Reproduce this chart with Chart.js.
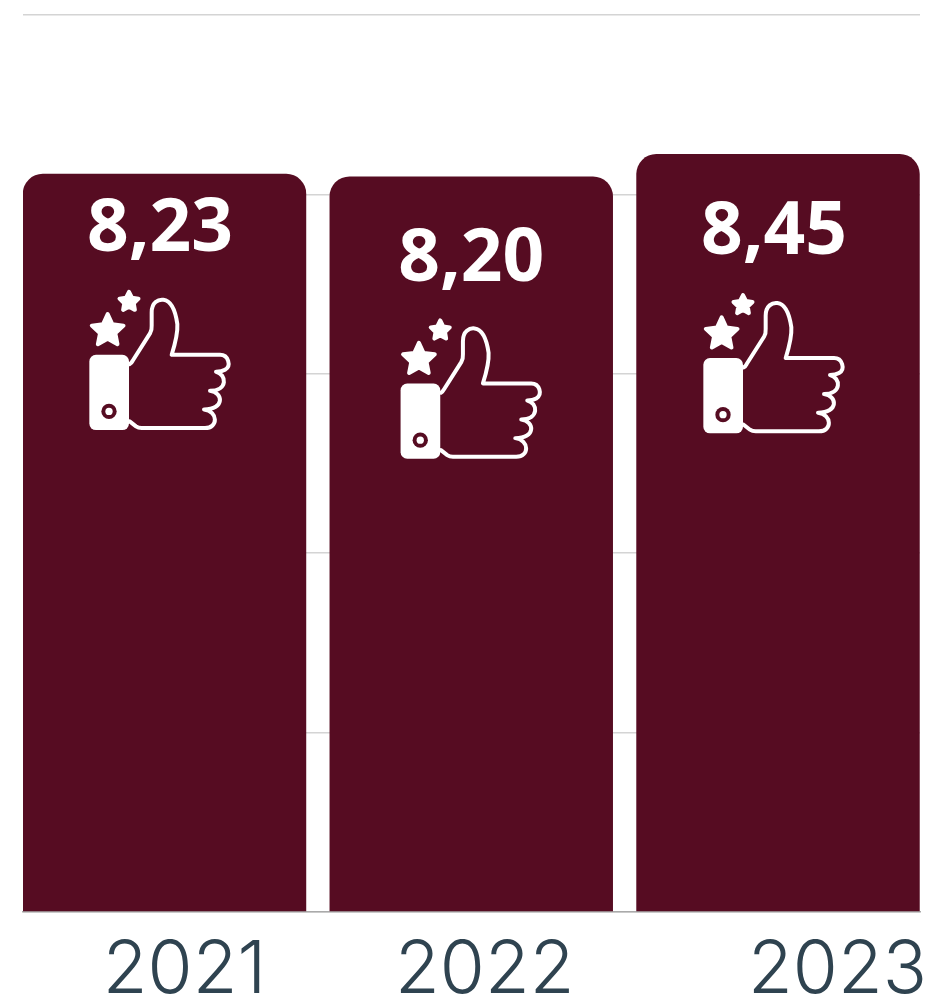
<!DOCTYPE html>
<html>
<head>
<meta charset="utf-8">
<style>
  html, body { margin: 0; padding: 0; background: #fff; }
  canvas { display: block; }
</style>
<script src="https://cdn.jsdelivr.net/npm/chart.js@4"></script>
</head>
<body>
<canvas id="chart" width="941" height="1005"></canvas>
<script>
const years = [2021, 2022, 2023];
const scores = [8.23, 8.20, 8.45];
const yTicks = [0, 2, 4, 6, 8, 10];

// the labels in the picture are not centred under the bars, so each one has its own nudge
const yearShift = [20, 13.5, 59.5];
const valueShiftX = [-4.5, 0, -4];
const valueShiftY = [56, 84, 79];
const thumbShiftY = [0, -2, 0];

const barColor = "#560c22";

function star(ctx, cx, cy, outer, inner) {
  ctx.beginPath();
  for (let i = 0; i < 10; i++) {
    const r = i % 2 ? inner : outer;
    const a = -Math.PI / 2 + i * Math.PI / 5;
    ctx.lineTo(cx + r * Math.cos(a), cy + r * Math.sin(a));
  }
  ctx.closePath();
  ctx.fill();
  ctx.stroke();
}

function drawThumb(ctx, x, y) {
  ctx.save();
  ctx.translate(x - 100, y - 59);
  ctx.scale(1 / 3, 1 / 3);
  ctx.fillStyle = "#fff";
  ctx.strokeStyle = "#fff";
  ctx.lineJoin = "round";
  ctx.lineCap = "round";

  ctx.lineWidth = 12;
  star(ctx, 143, 480, 50, 24);
  star(ctx, 207, 393, 30, 15);

  ctx.beginPath();
  ctx.roundRect(88, 552, 119, 226, 20);
  ctx.fill();
  ctx.fillStyle = barColor;
  ctx.beginPath();
  ctx.arc(147, 722, 23, 0, Math.PI * 2);
  ctx.fill();
  ctx.fillStyle = "#fff";
  ctx.beginPath();
  ctx.arc(147, 722, 11, 0, Math.PI * 2);
  ctx.fill();

  ctx.lineWidth = 12;
  ctx.beginPath();
  ctx.moveTo(209, 580);
  ctx.quadraticCurveTo(214, 578, 218, 570);
  ctx.lineTo(270, 488);
  ctx.quadraticCurveTo(276, 478, 275, 465);
  ctx.lineTo(275, 425);
  ctx.bezierCurveTo(275, 395, 295, 385, 310, 387);
  ctx.bezierCurveTo(335, 390, 347, 425, 352, 460);
  ctx.bezierCurveTo(354, 490, 345, 520, 335, 552);
  ctx.lineTo(480, 552);
  ctx.bezierCurveTo(505, 552, 515, 585, 495, 597);
  ctx.quadraticCurveTo(485, 603, 468, 603);
  ctx.bezierCurveTo(500, 610, 505, 660, 450, 660);
  ctx.bezierCurveTo(490, 665, 495, 716, 432, 716);
  ctx.bezierCurveTo(475, 722, 475, 772, 435, 772);
  ctx.lineTo(245, 772);
  ctx.quadraticCurveTo(235, 772, 228, 767);
  ctx.lineTo(209, 752);
  ctx.stroke();
  ctx.restore();
}

const overlay = {
  id: "overlay",
  afterDatasetsDraw(chart) {
    const ctx = chart.ctx;
    const bars = chart.getDatasetMeta(0).data;
    const xScale = chart.scales.x;
    ctx.save();
    bars.forEach((bar, i) => {
      const cx = bar.x + valueShiftX[i];
      const cy = bar.y + valueShiftY[i];
      ctx.fillStyle = "#fff";
      ctx.font = "bold 73px 'Open Sans'";
      ctx.textAlign = "center";
      ctx.textBaseline = "middle";
      ctx.fillText(scores[i].toFixed(2).replace(".", ","), cx, cy);
      drawThumb(ctx, cx, cy + thumbShiftY[i]);
    });
    ctx.fillStyle = "#2f4350";
    ctx.font = "300 73px Inter";
    ctx.textAlign = "center";
    ctx.textBaseline = "alphabetic";
    years.forEach((year, i) => {
      ctx.fillText(String(year), xScale.getPixelForValue(year) + yearShift[i], 993);
    });
    ctx.restore();
  }
};

new Chart(document.getElementById("chart"), {
  type: "bar",
  data: {
    datasets: [{
      data: years.map((year, i) => ({ x: year, y: scores[i] })),
      backgroundColor: barColor,
      borderRadius: { topLeft: 20, topRight: 20, bottomLeft: 0, bottomRight: 0 },
      borderSkipped: false,
      barPercentage: 0.924,
      categoryPercentage: 1
    }]
  },
  options: {
    responsive: false,
    animation: false,
    devicePixelRatio: 1,
    layout: { padding: { left: 23, right: 21, top: 15, bottom: 85 } },
    plugins: { legend: { display: false }, tooltip: { enabled: false } },
    scales: {
      x: {
        type: "linear",
        offset: false,
        min: 2020.5387,
        max: 2023.4629,
        afterBuildTicks(axis) { axis.ticks = years.map(v => ({ value: v })); },
        grid: { display: false },
        border: { color: "#aaa", width: 1.5 },
        ticks: { display: false }
      },
      y: {
        min: 0,
        max: 10,
        afterBuildTicks(axis) { axis.ticks = yTicks.map(v => ({ value: v })); },
        grid: { color: "#d4d4d4", lineWidth: 1.5, drawTicks: false },
        border: { display: false },
        ticks: { display: false }
      }
    }
  },
  plugins: [overlay]
});
</script>
</body>
</html>
